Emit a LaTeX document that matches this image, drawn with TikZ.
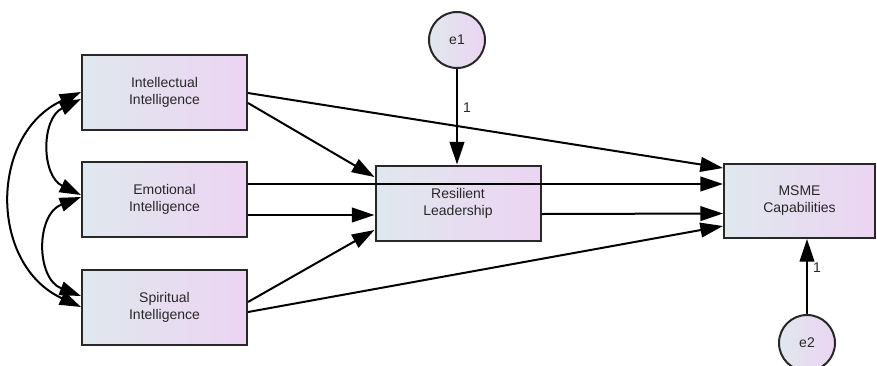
\documentclass[tikz,border=0pt]{standalone}
\usepackage{fontspec}
\setmainfont{Liberation Sans}
\usetikzlibrary{arrows.meta,calc}
\definecolor{boxleft}{RGB}{224,232,238}
\definecolor{boxright}{RGB}{236,212,242}
\definecolor{edgec}{RGB}{40,40,40}
\definecolor{txt}{RGB}{40,40,40}
\begin{document}
\begin{tikzpicture}[x=0.75pt,y=-0.75pt,
 var/.style={draw=edgec, line width=1.5pt, left color=boxleft, right color=boxright, inner sep=0pt, align=center, font=\fontsize{10.5}{12.75}\selectfont, text=txt},
 obsbox/.style={var, rectangle, minimum width=123.75pt, minimum height=56.25pt},
 errc/.style={var, circle, minimum size=42pt},
 pathar/.style={draw=black, line width=1.5pt, -{Triangle[length=17pt,width=11pt]}},
 cov/.style={draw=black, line width=1.5pt, {Triangle[length=16pt,width=10.5pt]}-{Triangle[length=16pt,width=10.5pt]}},
 lab/.style={font=\fontsize{10.5}{12.75}\selectfont, text=txt, inner sep=0pt}
]
\useasboundingbox (0,0) rectangle (877,365);

\node[obsbox] (intel) at (164.5,92.5) {Intellectual\\Intelligence};
\node[obsbox] (emo) at (164.5,199.5) {Emotional\\Intelligence};
\node[obsbox] (spir) at (164.5,307.5) {Spiritual\\Intelligence};
\node[obsbox] (res) at (458,203) {Resilient\\Leadership};
\node[obsbox, minimum width=113.25pt, minimum height=55.5pt] (msme) at (799.5,201) {MSME\\Capabilities};
\node[errc] (e1) at (457,40) {e1};
\node[errc] (e2) at (807,343) {e2};

\coordinate (iE1) at ($(intel.east)+(0,0.5)$);
\coordinate (iE2) at ($(intel.east)+(0,10.5)$);
\coordinate (eE1) at ($(emo.east)+(0,-15.5)$);
\coordinate (eE2) at ($(emo.east)+(0,15.5)$);
\coordinate (sE1) at ($(spir.east)+(0,-5.5)$);
\coordinate (sE2) at ($(spir.east)+(0,4.5)$);
\coordinate (rW1) at ($(res.west)+(0,-26)$);
\coordinate (rW2) at ($(res.west)+(0,12)$);
\coordinate (rW3) at ($(res.west)+(0,27)$);
\coordinate (rE) at ($(res.east)+(0,11)$);
\coordinate (mW1) at ($(msme.west)+(0,-33)$);
\coordinate (mW2) at ($(msme.west)+(0,-17)$);
\coordinate (mW3) at ($(msme.west)+(0,12.5)$);
\coordinate (mW4) at ($(msme.west)+(0,25)$);

\coordinate (iW1) at ($(intel.west)+(0,-0.5)$);
\coordinate (iW2) at ($(intel.west)+(0,6.5)$);
\coordinate (eW1) at ($(emo.west)+(0,-4.5)$);
\coordinate (eW2) at ($(emo.west)+(0,-2.5)$);
\coordinate (sW1) at ($(spir.west)+(0,-11.5)$);
\coordinate (sW2) at ($(spir.west)+(0,-0.5)$);

\draw[cov] (iW1) .. controls +(-92.1,42.2) and +(-92.1,-42.2) .. (sW2);
\draw[cov] (iW2) .. controls +(-40,19.5) and +(-40,-19.5) .. (eW1);
\draw[cov] (eW2) .. controls +(-45.3,17.4) and +(-45.3,-17.4) .. (sW1);

\draw[pathar] (iE1) -- (mW1);
\draw[pathar] (iE2) -- (rW1);
\draw[pathar] (eE1) -- (mW2);
\draw[pathar] (eE2) -- (rW2);
\draw[pathar] (sE1) -- (rW3);
\draw[pathar] (sE2) -- (mW4);
\draw[pathar] (rE) -- (mW3);
\draw[pathar] (e1.south) -- (e1.south |- res.north);
\draw[pathar] (e2.north) -- (e2.north |- msme.south);

\node[lab] (l1) at (467,108) {1};
\node[lab] (l2) at (817,268) {1};
\end{tikzpicture}
\end{document}
